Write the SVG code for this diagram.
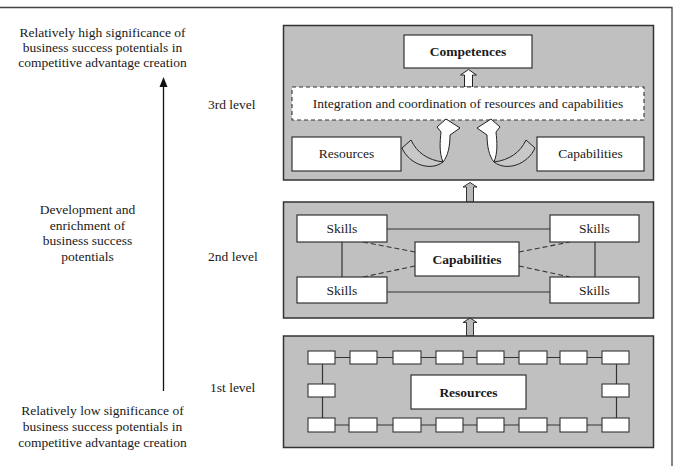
<svg xmlns="http://www.w3.org/2000/svg" width="678" height="466" viewBox="0 0 678 466">
<style>
text{font-family:"Liberation Serif","Times New Roman",serif;font-size:13.5px;fill:#1a1a1a}
.c{text-anchor:middle}
.b{font-weight:bold}
.panel{fill:#c0c0c0;stroke:#333;stroke-width:1.5}
.box{fill:#fff;stroke:#333;stroke-width:1.2}
.sm{fill:#fff;stroke:#333;stroke-width:1.1}
.ln{stroke:#333;stroke-width:1.2;fill:none}
.dl{stroke:#333;stroke-width:1.1;fill:none;stroke-dasharray:5,3}
.garr{fill:#b8b8b8;stroke:#333;stroke-width:1}
.warr{fill:#fff;stroke:#222;stroke-width:1}
.band{fill:#c8c8c8;stroke:#222;stroke-width:1}
</style>
<defs>
<g id="curl">
<path class="band" d="M402,148 C409,164 430,172 443,162 C428,160 417,153 411,140 Z"/>
<path class="warr" d="M443,162 C448,156 450,146 450,135 L460,128 L446,119 L437,127 L441,132 C440,142 439,152 443,162 Z"/>
</g>
</defs>
<rect width="678" height="466" fill="#fff"/>
<path d="M0,7.5 H672 V466" fill="none" stroke="#444" stroke-width="1.3"/>

<g id="left-axis">
<text class="c" x="102.5" y="36.5">Relatively high significance of</text>
<text class="c" x="102.5" y="52">business success potentials in</text>
<text class="c" x="102.5" y="67">competitive advantage creation</text>
<text class="c" x="87.5" y="214">Development and</text>
<text class="c" x="87.5" y="230">enrichment of</text>
<text class="c" x="87.5" y="245">business success</text>
<text class="c" x="87.5" y="261">potentials</text>
<text class="c" x="102.5" y="415">Relatively low significance of</text>
<text class="c" x="102.5" y="431">business success potentials in</text>
<text class="c" x="102.5" y="447">competitive advantage creation</text>
<text x="208" y="109">3rd level</text>
<text x="208" y="261">2nd level</text>
<text x="210" y="392">1st level</text>
</g>

<g id="connectors">
<line x1="163.5" y1="391" x2="163.5" y2="85" stroke="#111" stroke-width="1.3"/>
<path d="M163.5,77 L167.5,87 L159.5,87 Z" fill="#111"/>
<path class="garr" d="M466.5,202 V187 H463 L470,182.5 L477,187 H473.5 V202 Z"/>
<path class="garr" d="M466.5,336 V322.5 H463 L470,318 L477,322.5 H473.5 V336 Z"/>
</g>

<g id="level3">
<rect class="panel" x="283.5" y="25.5" width="370" height="154.5"/>
<g id="competences"><rect class="box" x="404" y="35" width="128" height="33"/><text class="c b" x="468" y="56">Competences</text></g>
<path class="warr" d="M464.5,87 V75 H460.5 L468.5,69.5 L476.5,75 H472.5 V87 Z"/>
<g id="integration"><rect x="292" y="87" width="352" height="33" fill="#fff" stroke="#333" stroke-width="1.1" stroke-dasharray="4,3"/><text class="c" x="468" y="108">Integration and coordination of resources and capabilities</text></g>
<g id="res3"><rect class="box" x="292" y="137" width="109" height="34"/><text class="c" x="346.5" y="158">Resources</text></g>
<g id="cap3"><rect class="box" x="537" y="137" width="107" height="34"/><text class="c" x="590.5" y="158">Capabilities</text></g>
<use href="#curl"/>
<use href="#curl" transform="translate(937,0) scale(-1,1)"/>
</g>

<g id="level2">
<rect class="panel" x="283.5" y="202" width="370" height="116"/>
<line class="ln" x1="387" y1="229" x2="550" y2="229"/>
<line class="ln" x1="387" y1="292" x2="550" y2="292"/>
<line class="ln" x1="342" y1="242" x2="342" y2="277"/>
<line class="ln" x1="595" y1="242" x2="595" y2="277"/>
<line class="dl" x1="363" y1="242" x2="415" y2="252"/>
<line class="dl" x1="363" y1="277" x2="415" y2="266"/>
<line class="dl" x1="519" y1="252" x2="570" y2="242"/>
<line class="dl" x1="519" y1="266" x2="570" y2="277"/>
<g id="skills-tl"><rect class="box" x="297" y="215" width="90" height="27"/><text class="c" x="342" y="233">Skills</text></g>
<g id="skills-tr"><rect class="box" x="550" y="215" width="89" height="27"/><text class="c" x="594.5" y="233">Skills</text></g>
<g id="skills-bl"><rect class="box" x="297" y="277" width="90" height="26"/><text class="c" x="342" y="294.5">Skills</text></g>
<g id="skills-br"><rect class="box" x="550" y="277" width="89" height="26"/><text class="c" x="594.5" y="294.5">Skills</text></g>
<g id="capabilities"><rect class="box" x="415" y="242" width="104" height="34"/><text class="c b" x="467" y="263.5">Capabilities</text></g>
</g>

<g id="level1">
<rect class="panel" x="283.5" y="336" width="370" height="111.5"/>
<line class="ln" x1="321" y1="357.5" x2="616" y2="357.5"/>
<line class="ln" x1="321" y1="425" x2="616" y2="425"/>
<line class="ln" x1="322.5" y1="357" x2="322.5" y2="425"/>
<line class="ln" x1="616.5" y1="357" x2="616.5" y2="425"/>
<g id="res-units">
<rect class="sm" x="308" y="351" width="27" height="13"/>
<rect class="sm" x="350" y="351" width="27" height="13"/>
<rect class="sm" x="393" y="351" width="28" height="13"/>
<rect class="sm" x="436" y="351" width="27" height="13"/>
<rect class="sm" x="477" y="351" width="27" height="13"/>
<rect class="sm" x="519" y="351" width="28" height="13"/>
<rect class="sm" x="560" y="351" width="27" height="13"/>
<rect class="sm" x="602" y="351" width="27" height="13"/>
<rect class="sm" x="308" y="384" width="27" height="13"/>
<rect class="sm" x="602" y="384" width="27" height="13"/>
<rect class="sm" x="308" y="418" width="27" height="14"/>
<rect class="sm" x="349" y="418" width="28" height="14"/>
<rect class="sm" x="393" y="418" width="28" height="14"/>
<rect class="sm" x="436" y="418" width="27" height="14"/>
<rect class="sm" x="477" y="418" width="27" height="14"/>
<rect class="sm" x="519" y="418" width="28" height="14"/>
<rect class="sm" x="560" y="418" width="27" height="14"/>
<rect class="sm" x="602" y="418" width="27" height="14"/>
</g>
<g id="resources"><rect class="box" x="411" y="375" width="115" height="34"/><text class="c b" x="468.5" y="396.5">Resources</text></g>
</g>
</svg>
